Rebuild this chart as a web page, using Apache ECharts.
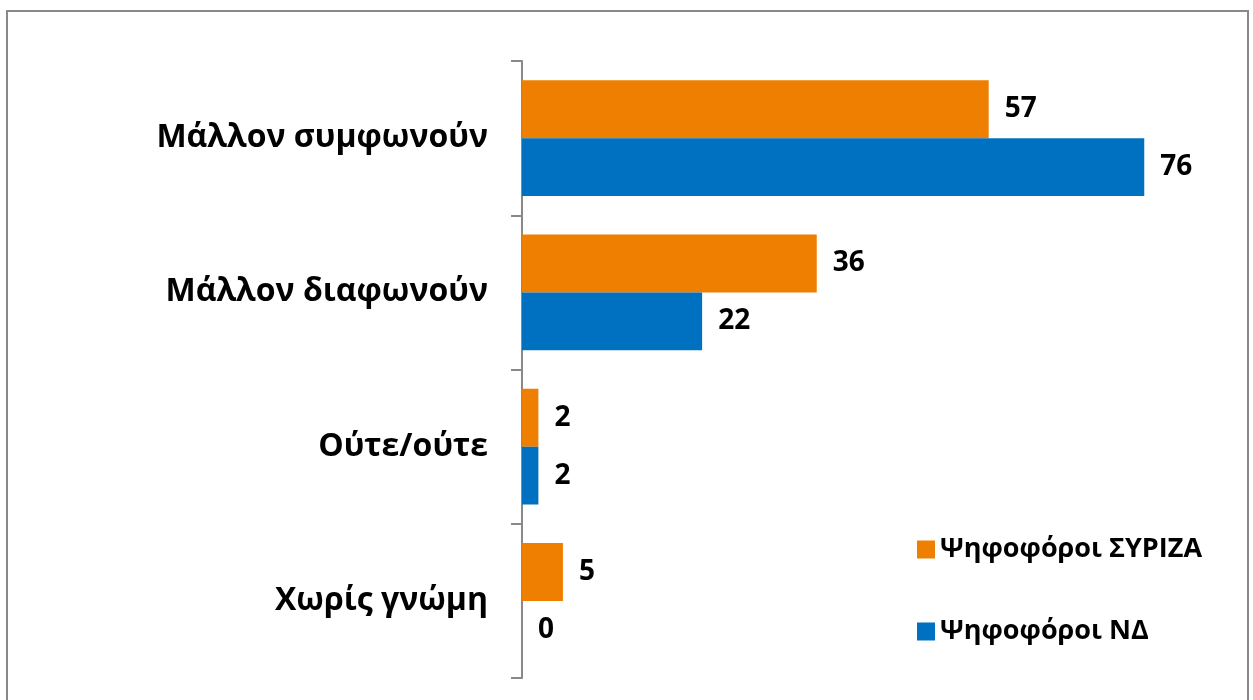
<!DOCTYPE html>
<html>
<head>
<meta charset="utf-8">
<script src="https://cdn.jsdelivr.net/npm/echarts@6/dist/echarts.min.js"></script>
<style>
  html, body { margin: 0; padding: 0; background: #fff; }
  #chart { width: 1253px; height: 700px; }
</style>
</head>
<body>
<div id="chart"></div>
<script>
const categories = ['Μάλλον συμφωνούν', 'Μάλλον διαφωνούν', 'Ούτε/ούτε', 'Χωρίς γνώμη'];
const seriesNames = ['Ψηφοφόροι ΣΥΡΙΖΑ', 'Ψηφοφόροι ΝΔ'];
const syrizaValues = [57, 36, 2, 5];
const ndValues = [76, 22, 2, 0];

const chart = echarts.init(document.getElementById('chart'));
const font = '"Open Sans", "Noto Sans", sans-serif';

const labelStyle = {
    show: true,
    position: 'right',
    distance: 16,
    color: '#000',
    fontSize: 28,
    fontWeight: 'bold',
    fontFamily: font
};

const option = {
    animation: false,
    color: ['#ef7f00', '#0070c0'],
    graphic: [{
        type: 'rect',
        shape: { x: 7, y: 11, width: 1241, height: 720 },
        style: { fill: 'none', stroke: '#898989', lineWidth: 2 },
        silent: true
    }],
    legend: {
        orient: 'vertical',
        left: 912,
        top: 531,
        itemWidth: 18,
        itemHeight: 18,
        itemGap: 55,
        itemTextGap: 7,
        icon: 'rect',
        textStyle: { color: '#000', fontSize: 27, fontWeight: 'bold', fontFamily: font },
        data: seriesNames
    },
    grid: {
        left: 522,
        top: 61,
        bottom: 22,
        right: 76,
        containLabel: false
    },
    xAxis: {
        type: 'value',
        min: 0,
        max: 80,
        show: false
    },
    yAxis: {
        type: 'category',
        inverse: true,
        data: categories,
        axisLine: { show: true, lineStyle: { color: '#898989', width: 2 } },
        axisTick: { show: true, length: 11, lineStyle: { color: '#898989', width: 2 } },
        axisLabel: {
            margin: 34,
            color: '#000',
            fontSize: 32,
            fontWeight: 'bold',
            fontFamily: font
        }
    },
    series: [
        {
            name: seriesNames[0],
            type: 'bar',
            data: syrizaValues,
            barGap: '0%',
            barCategoryGap: '25%',
            label: labelStyle
        },
        {
            name: seriesNames[1],
            type: 'bar',
            data: ndValues,
            barGap: '0%',
            barCategoryGap: '25%',
            label: labelStyle
        }
    ]
};

chart.setOption(option);
</script>
</body>
</html>
